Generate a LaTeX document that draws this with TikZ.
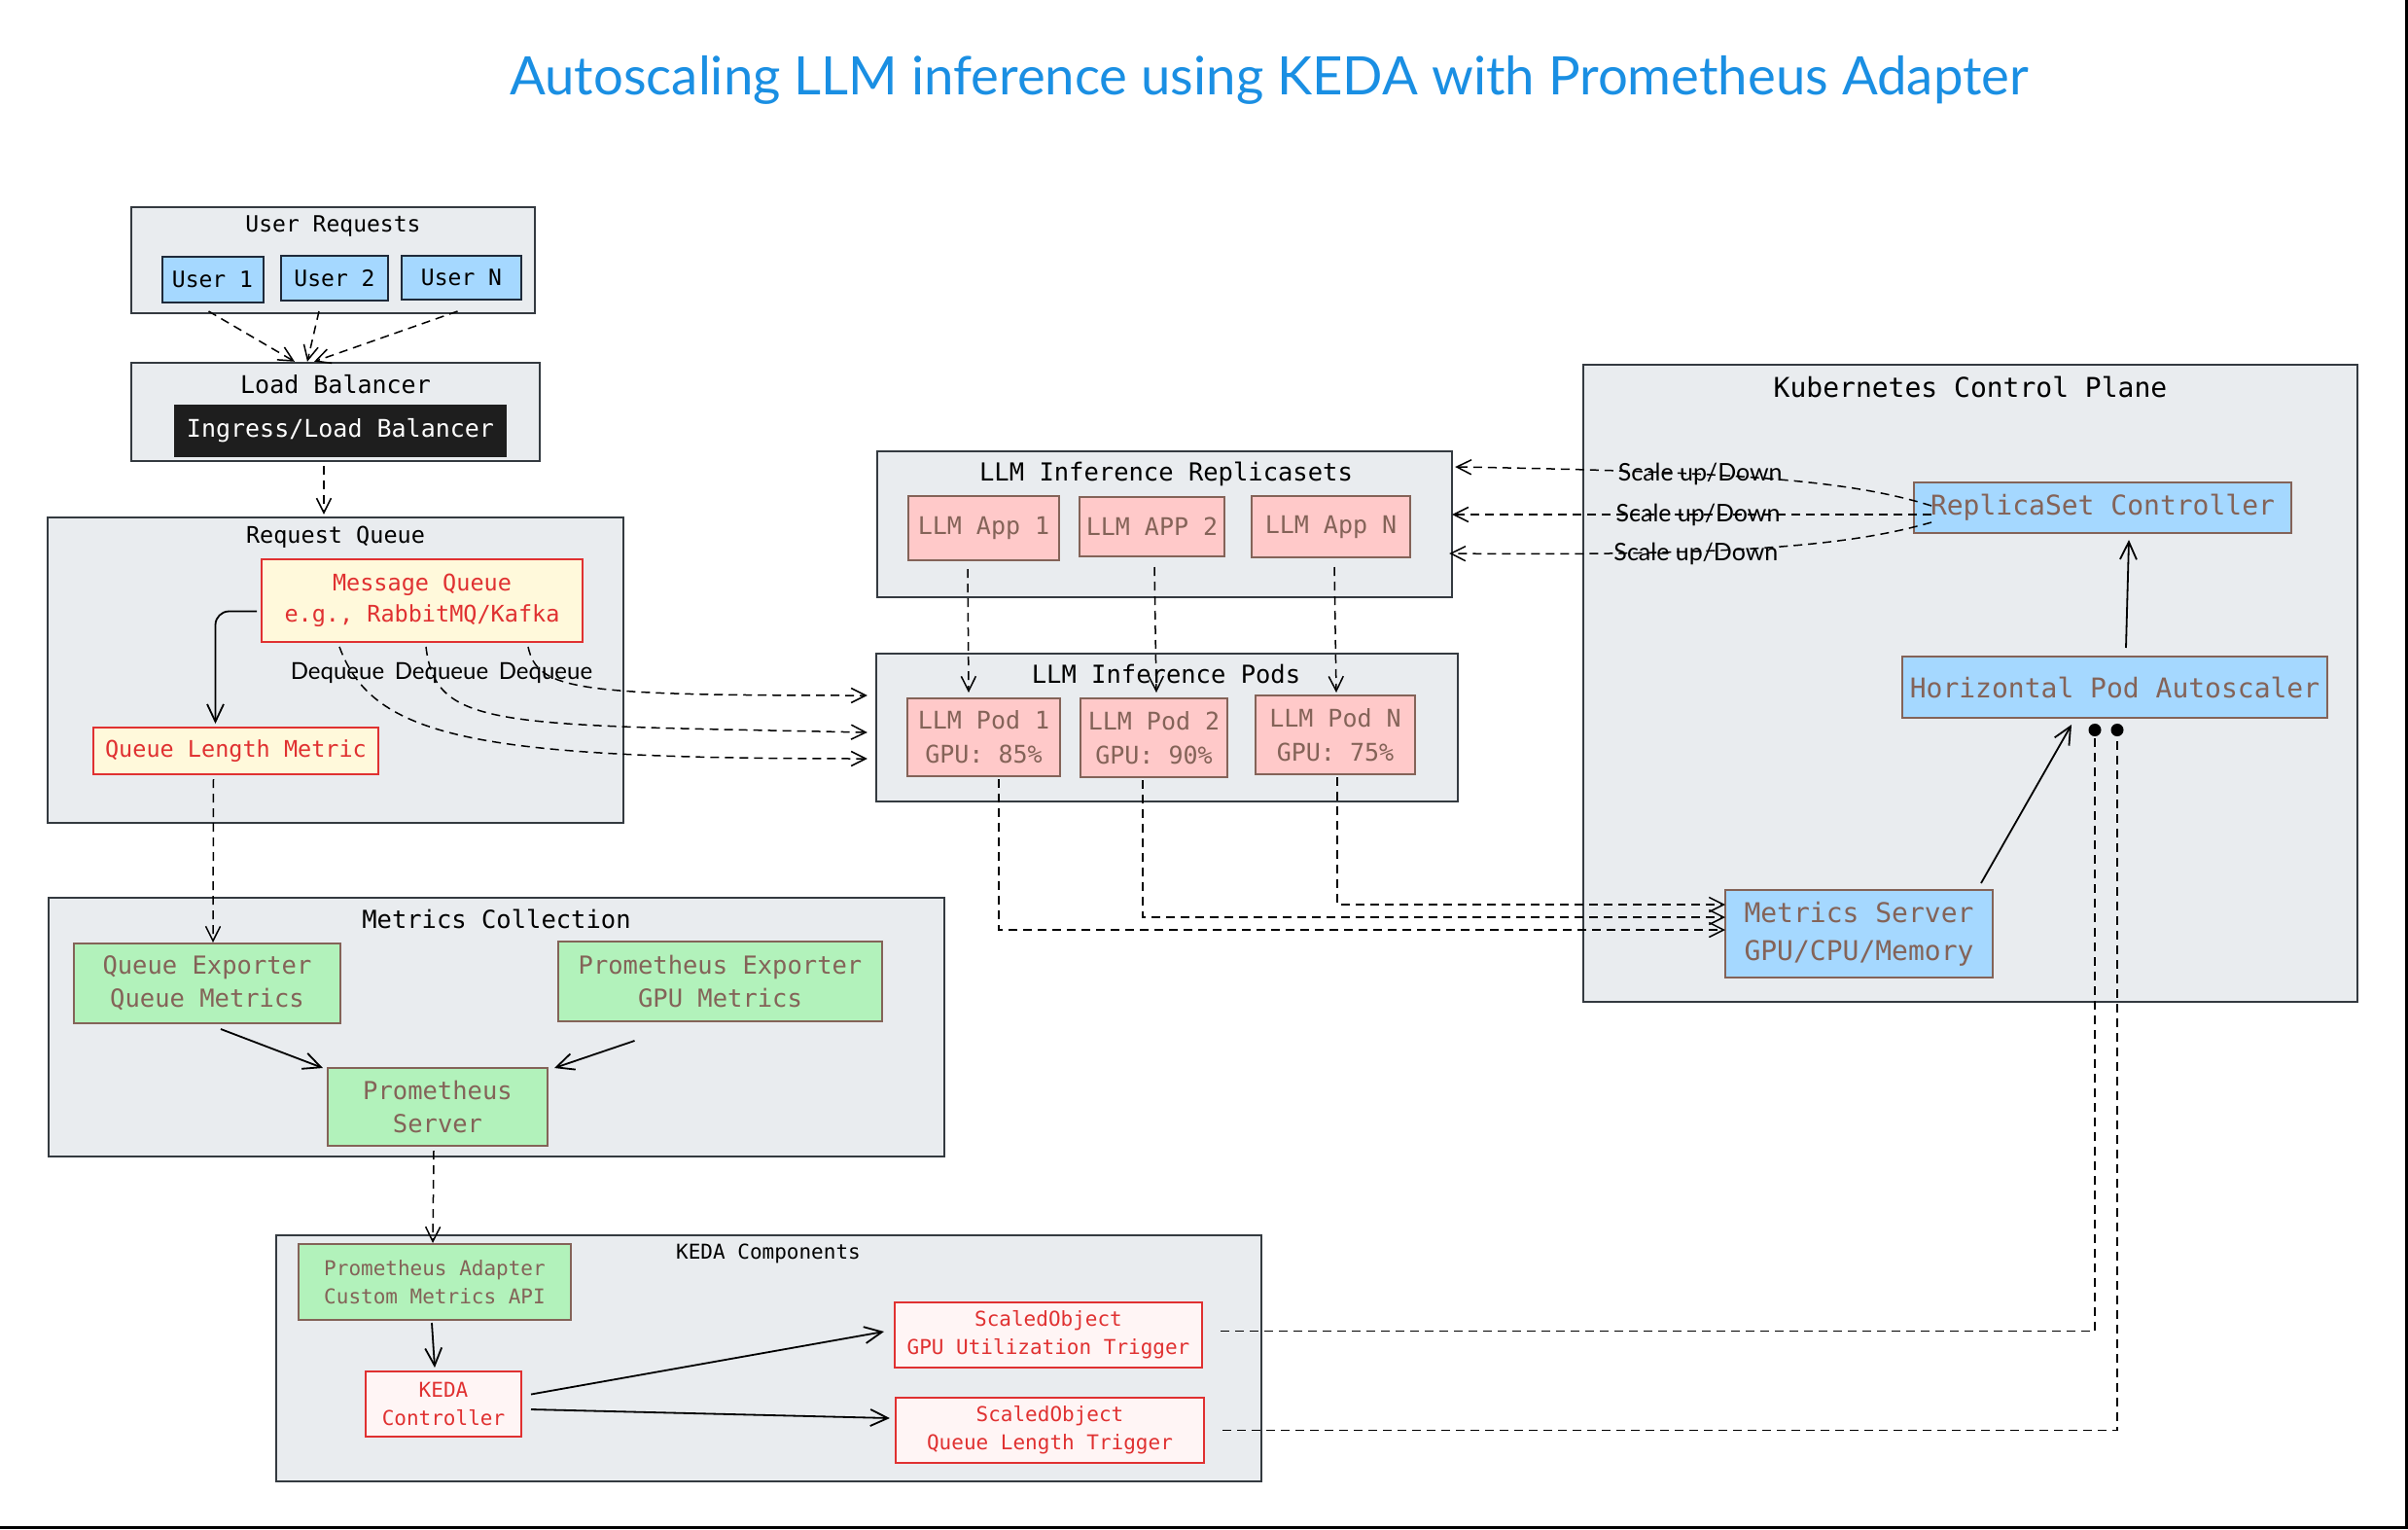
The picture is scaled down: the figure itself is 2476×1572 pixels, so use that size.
\documentclass[tikz,border=0pt]{standalone}
\usepackage{fontspec}
\usetikzlibrary{arrows.meta}
\newfontfamily\monof{DejaVu Sans Mono}
\newfontfamily\handf{Lato}
\definecolor{contfill}{HTML}{E9ECEF}
\definecolor{contline}{HTML}{343A40}
\definecolor{blue1}{HTML}{A5D8FF}
\definecolor{userline}{HTML}{1E2A3A}
\definecolor{brown1}{HTML}{846358}
\definecolor{pink1}{HTML}{FFC9C9}
\definecolor{green1}{HTML}{B2F2BB}
\definecolor{red1}{HTML}{E03131}
\definecolor{yel1}{HTML}{FFF9DB}
\definecolor{rose1}{HTML}{FFF5F5}
\definecolor{dark1}{HTML}{1E1E1E}
\definecolor{titleblue}{HTML}{1A8FE3}
\begin{document}
\begin{tikzpicture}[x=1pt,y=-1pt,
  cont/.style={draw=contline,fill=contfill,line width=2.4pt,inner sep=0pt},
  sz/.style 2 args={minimum width=#1,minimum height=#2},
  mono/.style 2 args={font=\monof\fontsize{#1}{#2}\selectfont},
  ttl/.style={inner sep=0pt,text=black},
  userbox/.style={draw=userline,fill=blue1,line width=2pt,inner sep=0pt,text=black},
  bluebox/.style={draw=brown1,fill=blue1,line width=2pt,inner sep=0pt,text=brown1,align=center},
  pinkbox/.style={draw=brown1,fill=pink1,line width=2pt,inner sep=0pt,text=brown1,align=center},
  greenbox/.style={draw=brown1,fill=green1,line width=2pt,inner sep=0pt,text=brown1,align=center},
  yelbox/.style={draw=red1,fill=yel1,line width=2pt,inner sep=0pt,text=red1,align=center},
  rosebox/.style={draw=red1,fill=rose1,line width=2pt,inner sep=0pt,text=red1,align=center},
  darkbox/.style={draw=dark1,fill=dark1,line width=2pt,inner sep=0pt,text=white},
  dashar/.style={line width=1.5pt,dash pattern=on 9pt off 6pt,-{Straight Barb[length=15pt,width=15pt]}},
  solar/.style={line width=1.8pt,-{Straight Barb[length=18pt,width=17pt]}},
  dotar/.style={line width=1.5pt,dash pattern=on 9pt off 6pt,-{Circle[length=13pt]}},
  lbl/.style={font=\handf\fontsize{25}{30}\selectfont,inner sep=0pt,text=black}
]
\useasboundingbox (0,0) rectangle (2476,1572);
\fill[white] (0,0) rectangle (2476,1572);

% title
\node[inner sep=0pt,text=titleblue,font=\handf\fontsize{54.5}{62}\selectfont] (title) at (1305,82) {Autoscaling LLM inference using KEDA with Prometheus Adapter};

% ---------- containers ----------
\node[cont,sz={415}{109}] (ureq) at (342.5,267.5) {};
\node[ttl,mono={23}{28}] (ureqt) at (342.5,233) {User Requests};
\node[cont,sz={420}{101}] (lb) at (345,423.5) {};
\node[ttl,mono={25}{30}] (lbt) at (345,395) {Load Balancer};
\node[cont,sz={592}{314}] (rq) at (345,689) {};
\node[ttl,mono={23.5}{28}] (rqt) at (345,552) {Request Queue};
\node[cont,sz={921}{266}] (mc) at (510.5,1056) {};
\node[ttl,mono={25.5}{30}] (mct) at (510.5,945) {Metrics Collection};
\node[cont,sz={1013}{253}] (keda) at (790.5,1396.5) {};
\node[ttl,mono={21}{26}] (kedat) at (790,1289) {KEDA Components};
\node[cont,sz={796}{655}] (k8s) at (2026,702.5) {};
\node[ttl,mono={28}{34}] (k8st) at (2026,398) {Kubernetes Control Plane};
\node[cont,sz={591}{150}] (rs) at (1197.5,539) {};
\node[ttl,mono={25.5}{30}] (rst) at (1199,487) {LLM Inference Replicasets};
\node[cont,sz={598}{152}] (pods) at (1200,748) {};
\node[ttl,mono={25.5}{30}] (podst) at (1199,693) {LLM Inference Pods};

% ---------- inner boxes ----------
\node[userbox,sz={104}{47},mono={23}{28}] (u1) at (218.5,287.5) {User 1};
\node[userbox,sz={110}{46},mono={23}{28}] (u2) at (344,286) {User 2};
\node[userbox,sz={123}{45},mono={23}{28}] (uN) at (474.5,285.5) {User N};
\node[darkbox,sz={340}{52},mono={25}{30}] (ing) at (350,443) {Ingress/Load Balancer};
\node[yelbox,sz={330}{85},mono={23.5}{32}] (mq) at (434,617.5) {Message Queue\\e.g., RabbitMQ/Kafka};
\node[yelbox,sz={293}{48},mono={23.5}{28}] (qlm) at (242.5,772) {Queue Length Metric};
\node[greenbox,sz={274}{82},mono={25.5}{34}] (qe) at (213,1011) {Queue Exporter\\Queue Metrics};
\node[greenbox,sz={333}{82},mono={25.5}{34}] (pe) at (740.5,1009) {Prometheus Exporter\\GPU Metrics};
\node[greenbox,sz={226}{80},mono={25.5}{34}] (ps) at (450,1138) {Prometheus\\Server};
\node[greenbox,sz={280}{78},mono={21}{29}] (pa) at (447,1318) {Prometheus Adapter\\Custom Metrics API};
\node[rosebox,sz={160}{67},mono={21}{29}] (kc) at (456,1443.5) {KEDA\\Controller};
\node[rosebox,sz={316}{67},mono={21}{29}] (sog) at (1078,1372.5) {ScaledObject\\GPU Utilization Trigger};
\node[rosebox,sz={317}{67},mono={21}{29}] (soq) at (1079.5,1470.5) {ScaledObject\\Queue Length Trigger};
\node[bluebox,sz={388}{52},mono={28}{34}] (rsc) at (2162,522) {ReplicaSet Controller};
\node[bluebox,sz={437}{63},mono={28}{34}] (hpa) at (2174.5,706.5) {Horizontal Pod Autoscaler};
\node[bluebox,sz={275}{90},mono={28}{39}] (ms) at (1911.5,960) {Metrics Server\\GPU/CPU/Memory};
\node[pinkbox,sz={155}{66},mono={25}{30}] (a1) at (1011.5,543) {LLM App 1};
\node[pinkbox,sz={149}{61},mono={25}{30}] (a2) at (1184.5,541.5) {LLM APP 2};
\node[pinkbox,sz={163}{63},mono={25}{30}] (aN) at (1368.5,541.5) {LLM App N};
\node[pinkbox,sz={157}{80},mono={25}{35}] (p1) at (1011.5,758) {LLM Pod 1\\GPU: 85\%};
\node[pinkbox,sz={151}{81},mono={25}{35}] (p2) at (1186.5,758.5) {LLM Pod 2\\GPU: 90\%};
\node[pinkbox,sz={164}{81},mono={25}{35}] (pN) at (1373,755.5) {LLM Pod N\\GPU: 75\%};

% ---------- connectors ----------
\draw[dashar] ([xshift=-4pt,yshift=-8pt]u1.south) -- ([xshift=-42pt]lb.north);
\draw[dashar] ([xshift=-16pt,yshift=-10pt]u2.south) -- ([xshift=-29pt]lb.north);
\draw[dashar] ([xshift=-4pt,yshift=-11pt]uN.south) -- ([xshift=-22pt]lb.north);
\draw[dashar] ([xshift=-12pt,yshift=-4pt]lb.south) -- ([xshift=-12pt,yshift=2pt]rq.north);
\draw[solar,rounded corners=14pt] ([xshift=-4pt,yshift=-11pt]mq.west) -| ([xshift=-21pt,yshift=3pt]qlm.north);

\draw[dashar] ([xshift=-85pt,yshift=-4pt]mq.south) .. controls +(35,95) and +(-400,0) .. ([xshift=-8pt,yshift=-32pt]pods.west);
\draw[dashar] ([xshift=4pt,yshift=-4pt]mq.south) .. controls +(10,85) and +(-380,-8) .. ([xshift=-8pt,yshift=-5pt]pods.west);
\draw[dashar] ([xshift=109pt,yshift=-4pt]mq.south) .. controls +(10,45) and +(-300,0) .. ([xshift=-8pt,yshift=33pt]pods.west);
\node[lbl,font=\handf\fontsize{24}{28}\selectfont] (dq1) at (347,692) {Dequeue};
\node[lbl,font=\handf\fontsize{24}{28}\selectfont] (dq2) at (454,692) {Dequeue};
\node[lbl,font=\handf\fontsize{24}{28}\selectfont] (dq3) at (561,692) {Dequeue};

\draw[dashar] ([xshift=-23pt,yshift=-4pt]qlm.south) -- ([xshift=6pt]qe.north);
\draw[solar] ([xshift=14pt,yshift=-5pt]qe.south) -- ([xshift=-4pt,yshift=-1pt]ps.north west);
\draw[solar] ([xshift=-88pt,yshift=-19pt]pe.south) -- ([xshift=6pt,yshift=-1pt]ps.north east);
\draw[dashar] ([xshift=-4pt,yshift=-4pt]ps.south) -- ([xshift=-2pt]pa.north);
\draw[solar] ([xshift=-3pt,yshift=-2pt]pa.south) -- ([xshift=-9pt,yshift=3pt]kc.north);
\draw[solar] ([xshift=9pt,yshift=10pt]kc.east) -- ([xshift=-10pt,yshift=3.5pt]sog.west);
\draw[solar] ([xshift=9pt,yshift=-5.5pt]kc.east) -- ([xshift=-5pt,yshift=12.5pt]soq.west);

\draw[dotar] ([xshift=18pt,yshift=4pt]sog.east) -| ([xshift=-20.5pt,yshift=-5pt]hpa.south);
\draw[dotar] ([xshift=18pt]soq.east) -| ([xshift=2.5pt,yshift=-5pt]hpa.south);

\draw[dashar] ([xshift=-16.5pt,yshift=-8pt]a1.south) -- ([xshift=-15.5pt,yshift=5pt]p1.north);
\draw[dashar] ([xshift=2.5pt,yshift=-10pt]a2.south) -- ([xshift=2.5pt,yshift=5pt]p2.north);
\draw[dashar] ([xshift=3.5pt,yshift=-9pt]aN.south) -- ([xshift=1pt,yshift=2pt]pN.north);

\draw[dashar] ([xshift=15.5pt,yshift=-2pt]p1.south) |- ([xshift=1pt,yshift=4pt]ms.west);
\draw[dashar] ([xshift=-11.5pt,yshift=-2pt]p2.south) |- ([xshift=1pt,yshift=17pt]ms.west);
\draw[dashar] ([xshift=2pt,yshift=-2pt]pN.south) |- ([xshift=1pt,yshift=30pt]ms.west);

\draw[dashar] ([xshift=19pt,yshift=2pt]rsc.west) .. controls +(-80,-25) and +(300,5) .. ([xshift=2pt,yshift=59pt]rs.east) node[lbl,pos=0.65] (sc1) {Scale up/Down};
\draw[dashar] ([xshift=19pt,yshift=-7pt]rsc.west) -- ([xshift=-1pt,yshift=10pt]rs.east) node[lbl,pos=0.487] (sc2) {Scale up/Down};
\draw[dashar] ([xshift=19pt,yshift=-15pt]rsc.west) .. controls +(-80,23) and +(300,3) .. ([xshift=-4pt,yshift=-30pt]rs.east) node[lbl,pos=0.65,yshift=-3pt] (sc3) {Scale up/Down};

\draw[solar] ([xshift=11.5pt,yshift=8pt]hpa.north) -- ([xshift=27pt,yshift=-6pt]rsc.south);
\draw[solar] ([xshift=125.5pt,yshift=6pt]ms.north) -- ([xshift=-44.5pt,yshift=-6pt]hpa.south);

% frame edges
\coordinate (frTR) at (2474.5,0);
\coordinate (frBR) at (2474.5,1570.5);
\coordinate (frBL) at (0,1570.5);
\draw[line width=3pt] (frTR) -- (frBR) -- (frBL);
\end{tikzpicture}
\end{document}
